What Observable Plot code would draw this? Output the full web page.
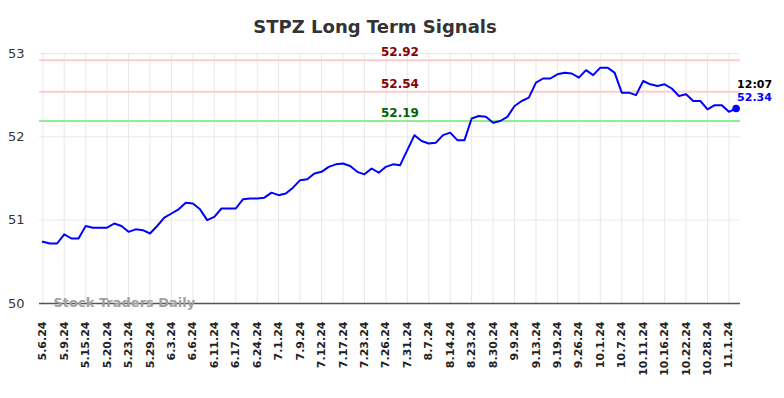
<!DOCTYPE html>
<html>
<head>
<meta charset="utf-8">
<script src="https://cdn.jsdelivr.net/npm/d3@7"></script>
<script src="https://cdn.jsdelivr.net/npm/@observablehq/plot@0.6"></script>
<style>
  html, body { margin: 0; padding: 0; background: #fff; }
  #chart { width: 784px; height: 398px; }
</style>
</head>
<body>
<div id="chart"></div>
<script>
const title = "STPZ Long Term Signals";
const watermark = "Stock Traders Daily";

// Tick labels: one every 3 data points
const tickLabels = ["5.6.24","5.9.24","5.15.24","5.20.24","5.23.24","5.29.24","6.3.24","6.6.24",
  "6.11.24","6.17.24","6.24.24","7.1.24","7.9.24","7.12.24","7.17.24","7.23.24","7.26.24",
  "7.31.24","8.7.24","8.14.24","8.23.24","8.30.24","9.9.24","9.13.24","9.19.24","9.26.24",
  "10.1.24","10.7.24","10.11.24","10.16.24","10.22.24","10.28.24","11.1.24"];
const tickStep = 3;

// Price series (one value per data point)
const prices = [
  50.74,50.72,50.72,50.83,50.78,50.78,50.93,50.91,50.91,50.91,
  50.96,50.93,50.86,50.89,50.88,50.84,50.93,51.03,51.08,51.13,
  51.21,51.20,51.13,51.00,51.04,51.14,51.14,51.14,51.25,51.26,
  51.26,51.27,51.33,51.30,51.32,51.39,51.48,51.49,51.56,51.58,
  51.64,51.67,51.68,51.65,51.58,51.55,51.62,51.57,51.64,51.67,
  51.66,51.84,52.02,51.95,51.92,51.93,52.02,52.05,51.96,51.96,
  52.22,52.25,52.24,52.17,52.19,52.24,52.37,52.43,52.47,52.65,
  52.70,52.70,52.75,52.77,52.76,52.71,52.80,52.74,52.83,52.83,
  52.77,52.53,52.53,52.50,52.67,52.63,52.61,52.63,52.58,52.49,
  52.51,52.43,52.43,52.33,52.38,52.38,52.30,52.34
];

const signalValues = [52.92, 52.54, 52.19];
const signalLineColors = ["#ffcccc", "#ffcccc", "#90ee90"];
const signalTextColors = ["#8b0000", "#8b0000", "#006400"];
const lastTime = "12:07";
const yTicks = [50, 51, 52, 53];

const data = prices.map((v, i) => ({i, v}));
const tickIdx = tickLabels.map((_, k) => k * tickStep);
const signals = signalValues.map((v, k) => ({v, line: signalLineColors[k], text: signalTextColors[k]}));
const last = data[data.length - 1];

const chart = Plot.plot({
  width: 784,
  height: 398,
  marginTop: 53,
  marginBottom: 95,
  marginLeft: 39,
  marginRight: 44,
  style: {fontFamily: "DejaVu Sans", background: "#fff", overflow: "visible"},
  x: {domain: [0, prices.length - 1], insetLeft: 3.3, insetRight: 4.4},
  y: {domain: [50, 53]},
  marks: [
    Plot.gridX(tickIdx, {stroke: "#e8e8e8", strokeOpacity: 1, strokeWidth: 1}),
    Plot.gridY([51, 52, 53], {stroke: "#e8e8e8", strokeOpacity: 1, strokeWidth: 1}),
    Plot.ruleY(signals, {y: "v", stroke: "line", strokeWidth: 2}),
    Plot.text(signals, {y: "v", frameAnchor: "middle", lineAnchor: "middle", dx: 10, dy: -8,
      text: d => d.v.toFixed(2), fill: "text", fontSize: 12, fontWeight: "bold"}),
    Plot.ruleY([50], {stroke: "#555", strokeWidth: 1.5}),
    Plot.text([watermark], {frameAnchor: "bottom-left", lineAnchor: "middle", dx: 14, dy: -1,
      fill: "#a0a0a0", fontSize: 13, fontWeight: "bold", textAnchor: "start"}),
    Plot.line(data, {x: "i", y: "v", stroke: "#0000ff", strokeWidth: 2, strokeLinejoin: "round"}),
    Plot.dot([last], {x: "i", y: "v", r: 3.8, fill: "#0000ff"}),
    Plot.text([last], {x: "i", y: "v", text: () => lastTime, dx: 1, dy: -24, textAnchor: "start",
      fill: "#000", fontSize: 11, fontWeight: "bold"}),
    Plot.text([last], {x: "i", y: "v", text: d => d.v.toFixed(2), dx: 1, dy: -11.5, textAnchor: "start",
      fill: "#0000ff", fontSize: 11, fontWeight: "bold"}),
    Plot.axisY(yTicks, {tickSize: 0, tickPadding: 15, fontSize: 13, fill: "#333", label: null,
      tickFormat: d3.format("d")}),
    Plot.axisX(tickIdx, {tickSize: 0, tickPadding: 18, tickRotate: -90, fontSize: 11, fontWeight: "bold",
      fill: "#222", label: null, tickFormat: i => tickLabels[i / tickStep]}),
    Plot.text([title], {frameAnchor: "top", lineAnchor: "middle", dx: -15, dy: -26, fontSize: 18,
      fontWeight: "bold", fill: "#333"})
  ]
});
document.getElementById("chart").appendChild(chart);
</script>
</body>
</html>
